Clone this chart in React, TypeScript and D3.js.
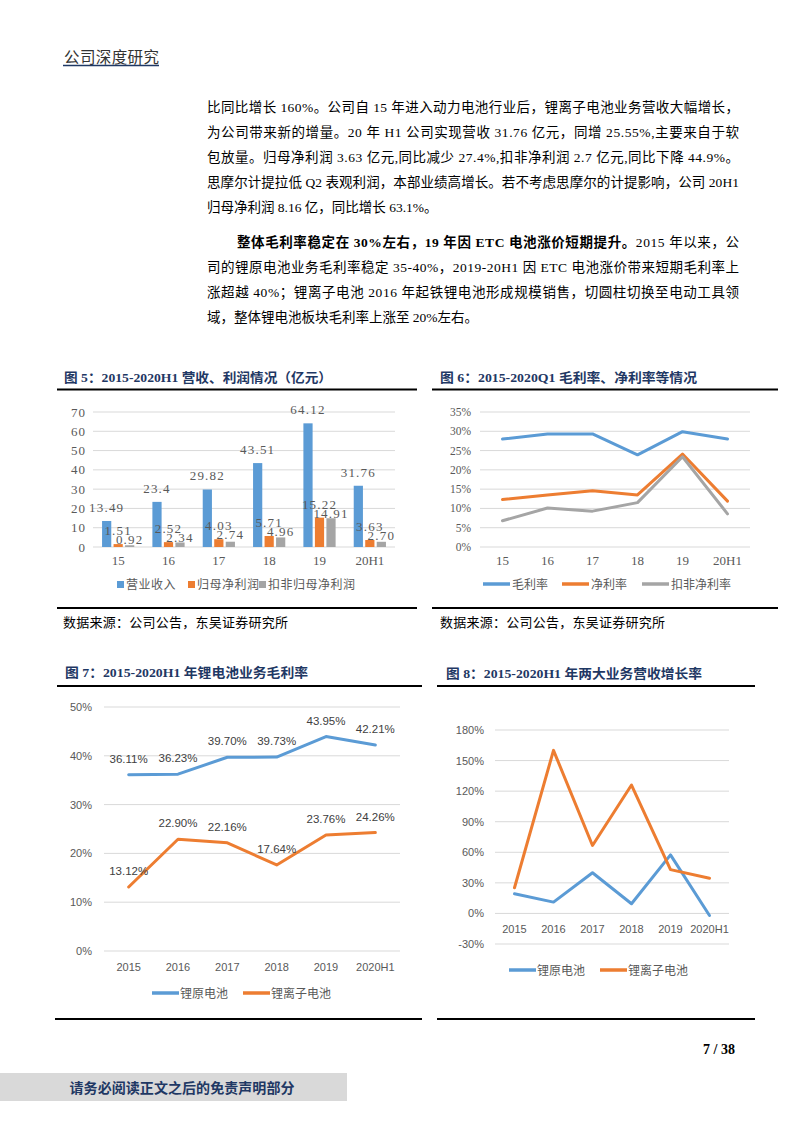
import React from "react";
import * as d3 from "d3";

// ---------- Figure 5 data ----------
const cats5 = ["15", "16", "17", "18", "19", "20H1"];
const revenue = [13.49, 23.4, 29.82, 43.51, 64.12, 31.76];
const netProfit = [1.51, 2.52, 4.03, 5.71, 15.22, 3.63];
const deductedProfit = [0.92, 2.34, 2.74, 4.96, 14.91, 2.7];
const revenueLabels = ["13.49", "23.4", "29.82", "43.51", "64.12", "31.76"];
const netProfitLabels = ["1.51", "2.52", "4.03", "5.71", "15.22", "3.63"];
const deductedLabels = ["0.92", "2.34", "2.74", "4.96", "14.91", "2.70"];
const series5 = ["营业收入", "归母净利润", "扣非归母净利润"];
const ticks5 = [0, 10, 20, 30, 40, 50, 60, 70];

// ---------- Figure 6 data (%) ----------
const cats6 = ["15", "16", "17", "18", "19", "20H1"];
const grossMargin = [28.0, 29.3, 29.3, 23.9, 29.9, 28.0];
const netMargin = [12.3, 13.5, 14.6, 13.5, 24.1, 11.9];
const deductedMargin = [6.8, 10.1, 9.3, 11.5, 23.4, 8.6];
const series6 = ["毛利率", "净利率", "扣非净利率"];
const ticks6 = [0, 5, 10, 15, 20, 25, 30, 35];

// ---------- Figure 7 data (%) ----------
const cats7 = ["2015", "2016", "2017", "2018", "2019", "2020H1"];
const primaryMargin = [36.11, 36.23, 39.7, 39.73, 43.95, 42.21];
const ionMargin = [13.12, 22.9, 22.16, 17.64, 23.76, 24.26];
const series7 = ["锂原电池", "锂离子电池"];
const ticks7 = [0, 10, 20, 30, 40, 50];

// ---------- Figure 8 data (%) ----------
const cats8 = ["2015", "2016", "2017", "2018", "2019", "2020H1"];
const primaryGrowth = [19.3, 11.1, 39.9, 9.5, 57.5, -2.0];
const ionGrowth = [25.2, 160, 66.7, 126, 43, 34.6];
const ticks8 = [-30, 0, 30, 60, 90, 120, 150, 180];

// ---------- Text ----------
const para1 = [
  "比同比增长 160%。公司自 15 年进入动力电池行业后，锂离子电池业务营收大幅增长，",
  "为公司带来新的增量。20 年 H1 公司实现营收 31.76 亿元，同增 25.55%,主要来自于软",
  "包放量。归母净利润 3.63 亿元,同比减少 27.4%,扣非净利润 2.7 亿元,同比下降 44.9%。",
  "思摩尔计提拉低 Q2 表观利润，本部业绩高增长。若不考虑思摩尔的计提影响，公司 20H1",
  "归母净利润 8.16 亿，同比增长 63.1%。",
];
const para2Bold = "整体毛利率稳定在 30%左右，19 年因 ETC 电池涨价短期提升。";
const para2First = "2015 年以来，公";
const para2 = [
  "司的锂原电池业务毛利率稳定 35-40%，2019-20H1 因 ETC 电池涨价带来短期毛利率上",
  "涨超越 40%；锂离子电池 2016 年起铁锂电池形成规模销售，切圆柱切换至电动工具领",
  "域，整体锂电池板块毛利率上涨至 20%左右。",
];

const BLUE = "#5B9BD5";
const ORANGE = "#ED7D31";
const GRAY = "#A5A5A5";
const GRID = "#D9D9D9";
const NAVY = "#1F3864";
const LABEL = "#595959";
const SERIF = "'Liberation Serif', 'Noto Sans CJK SC', serif";
const SANS = "'Liberation Sans', 'Noto Sans CJK SC', sans-serif";
const CJK = "'Noto Sans CJK SC', sans-serif";

function Fig5() {
  const x0 = d3.scaleBand<string>().domain(cats5).range([93, 395]).paddingInner(0.36).paddingOuter(0.18);
  const x1 = d3.scaleBand<number>().domain([0, 1, 2]).range([0, x0.bandwidth()]).paddingInner(0.2);
  const y = d3.scaleLinear().domain([0, 70]).range([547, 412]);
  const data = [revenue, netProfit, deductedProfit];
  const labels = [revenueLabels, netProfitLabels, deductedLabels];
  const colors = [BLUE, ORANGE, GRAY];
  const legendX = [117, 188, 259];
  // label baselines: above bar; the third series is nudged below the second one's label when they collide
  const labelY = (si: number, i: number) => {
    const natural = y(data[si][i]) - 9;
    if (si !== 2) return natural;
    const orange = y(data[1][i]) - 9;
    return Math.min(y(data[2][i]) + 1, Math.max(natural, orange + 9));
  };
  return (
    <g>
      {ticks5.map((t) => (
        <g key={t}>
          <line x1={93} x2={395} y1={y(t)} y2={y(t)} stroke={GRID} strokeWidth={1} />
          <text x={86} y={y(t) + 4.5} textAnchor="end" fontFamily={SERIF} fontSize={13} fill={LABEL} letterSpacing={1}>{t}</text>
        </g>
      ))}
      {data.map((s, si) =>
        s.map((v, i) => {
          const bx = (x0(cats5[i]) as number) + (x1(si) as number);
          return (
            <rect key={si + "-" + i} x={bx} y={y(v)} width={x1.bandwidth()} height={y(0) - y(v)} fill={colors[si]} />
          );
        })
      )}
      {data.map((s, si) =>
        s.map((v, i) => {
          const bx = (x0(cats5[i]) as number) + (x1(si) as number);
          return (
            <text key={"l" + si + "-" + i} x={bx + x1.bandwidth() / 2} y={labelY(si, i)} textAnchor="middle" fontFamily={SERIF} fontSize={13} fill={LABEL} letterSpacing={1.2}>
              {labels[si][i]}
            </text>
          );
        })
      )}
      {cats5.map((c) => (
        <text key={c} x={(x0(c) as number) + x0.bandwidth() / 2} y={565} textAnchor="middle" fontFamily={SERIF} fontSize={13} fill={LABEL}>{c}</text>
      ))}
      {series5.map((s, i) => (
        <g key={s}>
          <rect x={legendX[i]} y={581} width={7} height={7} fill={colors[i]} />
          <text x={legendX[i] + 9} y={589} fontFamily={CJK} fontSize={12} fill={LABEL} letterSpacing={0.5}>{s}</text>
        </g>
      ))}
    </g>
  );
}

function Fig6() {
  const x = d3.scalePoint<string>().domain(cats6).range([480, 750]).padding(0.5);
  const y = d3.scaleLinear().domain([0, 35]).range([547, 412]);
  const data = [grossMargin, netMargin, deductedMargin];
  const colors = [BLUE, ORANGE, GRAY];
  const line = d3.line<number>().x((_, i) => x(cats6[i]) as number).y((v) => y(v));
  const legendX = [483, 562, 642];
  return (
    <g>
      {ticks6.map((t) => (
        <g key={t}>
          <line x1={480} x2={750} y1={y(t)} y2={y(t)} stroke={GRID} strokeWidth={1} />
          <text x={471} y={y(t) + 4} textAnchor="end" fontFamily={SERIF} fontSize={11.5} fill={LABEL}>{t + "%"}</text>
        </g>
      ))}
      {data.map((s, si) => (
        <path key={si} d={line(s) || ""} fill="none" stroke={colors[si]} strokeWidth={3} strokeLinejoin="round" strokeLinecap="round" />
      ))}
      {cats6.map((c) => (
        <text key={c} x={x(c)} y={565} textAnchor="middle" fontFamily={SERIF} fontSize={13} fill={LABEL}>{c}</text>
      ))}
      {series6.map((s, i) => (
        <g key={s}>
          <line x1={legendX[i]} x2={legendX[i] + 27} y1={584} y2={584} stroke={colors[i]} strokeWidth={3.5} />
          <text x={legendX[i] + 29} y={588.5} fontFamily={CJK} fontSize={12} fill={LABEL}>{s}</text>
        </g>
      ))}
    </g>
  );
}

function Fig7() {
  const x = d3.scalePoint<string>().domain(cats7).range([104, 400]).padding(0.5);
  const y = d3.scaleLinear().domain([0, 50]).range([951, 707]);
  const data = [primaryMargin, ionMargin];
  const colors = [BLUE, ORANGE];
  const line = d3.line<number>().x((_, i) => x(cats7[i]) as number).y((v) => y(v));
  const legendX = [152, 243];
  return (
    <g>
      {ticks7.map((t) => (
        <g key={t}>
          <line x1={104} x2={400} y1={y(t)} y2={y(t)} stroke={GRID} strokeWidth={1} />
          <text x={92} y={y(t) + 4} textAnchor="end" fontFamily={SANS} fontSize={11} fill={LABEL}>{t + "%"}</text>
        </g>
      ))}
      {data.map((s, si) => (
        <path key={si} d={line(s) || ""} fill="none" stroke={colors[si]} strokeWidth={3} strokeLinejoin="round" strokeLinecap="round" />
      ))}
      {data.map((s, si) =>
        s.map((v, i) => (
          <text key={si + "-" + i} x={x(cats7[i])} y={y(v) - 12} textAnchor="middle" fontFamily={SANS} fontSize={11.5} fill="#404040">
            {v.toFixed(2) + "%"}
          </text>
        ))
      )}
      {cats7.map((c) => (
        <text key={c} x={x(c)} y={971} textAnchor="middle" fontFamily={SANS} fontSize={11} fill={LABEL}>{c}</text>
      ))}
      {series7.map((s, i) => (
        <g key={s}>
          <line x1={legendX[i]} x2={legendX[i] + 27} y1={993} y2={993} stroke={colors[i]} strokeWidth={3.5} />
          <text x={legendX[i] + 28} y={997.5} fontFamily={CJK} fontSize={12} fill={LABEL}>{s}</text>
        </g>
      ))}
    </g>
  );
}

function Fig8() {
  const x = d3.scalePoint<string>().domain(cats8).range([495, 729]).padding(0.5);
  const y = d3.scaleLinear().domain([-30, 180]).range([944, 730]);
  const data = [primaryGrowth, ionGrowth];
  const colors = [BLUE, ORANGE];
  const line = d3.line<number>().x((_, i) => x(cats8[i]) as number).y((v) => y(v));
  const legendX = [509, 600];
  return (
    <g>
      {ticks8.map((t) => (
        <g key={t}>
          <line x1={495} x2={729} y1={y(t)} y2={y(t)} stroke={GRID} strokeWidth={1} />
          <text x={484} y={y(t) + 4} textAnchor="end" fontFamily={SANS} fontSize={11} fill={LABEL}>{t + "%"}</text>
        </g>
      ))}
      {data.map((s, si) => (
        <path key={si} d={line(s) || ""} fill="none" stroke={colors[si]} strokeWidth={3} strokeLinejoin="round" strokeLinecap="round" />
      ))}
      {cats8.map((c) => (
        <text key={c} x={x(c)} y={933} textAnchor="middle" fontFamily={SANS} fontSize={11} fill={LABEL}>{c}</text>
      ))}
      {series7.map((s, i) => (
        <g key={s}>
          <line x1={legendX[i]} x2={legendX[i] + 27} y1={970} y2={970} stroke={colors[i]} strokeWidth={3.5} />
          <text x={legendX[i] + 28} y={974.5} fontFamily={CJK} fontSize={12} fill={LABEL}>{s}</text>
        </g>
      ))}
    </g>
  );
}

function Title({ x, y, w, text }: { x: number; y: number; w: number; text: string }) {
  return (
    <text x={x} y={y} fontFamily={SERIF} fontWeight="bold" fontSize={13} fill={NAVY} textLength={w} lengthAdjust="spacingAndGlyphs">
      {text}
    </text>
  );
}

export default function App() {
  const bodyFont = SERIF;
  return (
    <div style={{ position: "absolute", left: 0, top: 0 }}>
      <svg width={793} height={1122} viewBox="0 0 793 1122" style={{ display: "block", background: "#fff" }}>
        {/* Header */}
        <text x={64} y={63} fontFamily={CJK} fontSize={15.5} fill="#333" textLength={95} lengthAdjust="spacing">公司深度研究</text>
        <line x1={63} x2={159} y1={65.5} y2={65.5} stroke={NAVY} strokeWidth={1.5} />

        {/* Paragraph 1 */}
        {para1.map((l, i) => (
          <text key={i} x={207} y={112 + i * 25} fontFamily={bodyFont} fontSize={13.5} fill="#000"
            {...(i < para1.length - 1 ? { textLength: 532, lengthAdjust: "spacing" } : {})}>
            {l}
          </text>
        ))}
        {/* Paragraph 2 */}
        <text x={237} y={247} fontFamily={bodyFont} fontSize={13.5} fill="#000" textLength={502} lengthAdjust="spacing">
          <tspan fontWeight="bold">{para2Bold}</tspan>
          <tspan>{para2First}</tspan>
        </text>
        {para2.map((l, i) => (
          <text key={i} x={207} y={272 + i * 25} fontFamily={bodyFont} fontSize={13.5} fill="#000"
            {...(i < para2.length - 1 ? { textLength: 532, lengthAdjust: "spacing" } : {})}>
            {l}
          </text>
        ))}

        {/* Figure titles and rules */}
        <Title x={64} y={382} w={268} text="图 5：2015-2020H1 营收、利润情况（亿元）" />
        <line x1={57} x2={417} y1={389.5} y2={389.5} stroke="#000" strokeWidth={2} />
        <line x1={57} x2={417} y1={608} y2={608} stroke="#000" strokeWidth={2} />
        <text x={63} y={627} fontFamily={CJK} fontSize={13} fill="#000" textLength={225} lengthAdjust="spacing">数据来源：公司公告，东吴证券研究所</text>

        <Title x={440} y={382} w={257} text="图 6：2015-2020Q1 毛利率、净利率等情况" />
        <line x1={432} x2={778} y1={389.5} y2={389.5} stroke="#000" strokeWidth={2} />
        <line x1={432} x2={778} y1={608} y2={608} stroke="#000" strokeWidth={2} />
        <text x={440} y={627} fontFamily={CJK} fontSize={13} fill="#000" textLength={225} lengthAdjust="spacing">数据来源：公司公告，东吴证券研究所</text>

        <Title x={65} y={677} w={243} text="图 7：2015-2020H1 年锂电池业务毛利率" />
        <line x1={57} x2={422} y1={686} y2={686} stroke="#000" strokeWidth={2} />
        <line x1={55} x2={422} y1={1019} y2={1019} stroke="#000" strokeWidth={2} />

        <Title x={446} y={678} w={256} text="图 8：2015-2020H1 年两大业务营收增长率" />
        <line x1={437} x2={755} y1={686} y2={686} stroke="#000" strokeWidth={2} />
        <line x1={437} x2={755} y1={1019} y2={1019} stroke="#000" strokeWidth={2} />

        <Fig5 />
        <Fig6 />
        <Fig7 />
        <Fig8 />

        {/* Footer */}
        <text x={703} y={1054} fontFamily={SERIF} fontWeight="bold" fontSize={14} fill="#000">7 / 38</text>
        <rect x={0} y={1073} width={347} height={28} fill="#D9D9D9" />
        <text x={182} y={1093} textAnchor="middle" fontFamily={CJK} fontWeight="bold" fontSize={14} fill={NAVY} textLength={225} lengthAdjust="spacing">
          请务必阅读正文之后的免责声明部分
        </text>
      </svg>
    </div>
  );
}
